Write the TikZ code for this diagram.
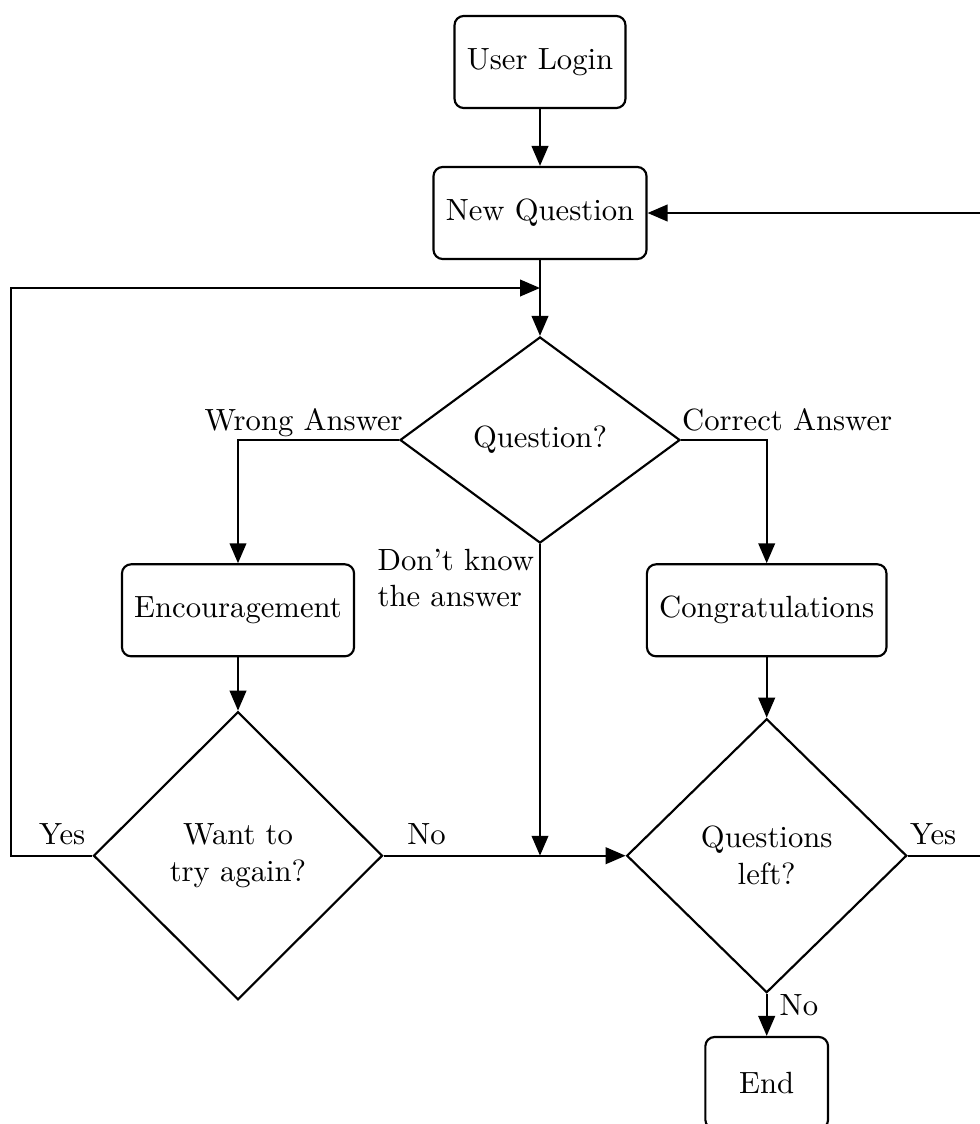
\documentclass[tikz,border=0pt]{standalone}
\usetikzlibrary{shapes.geometric, arrows.meta}

\begin{document}
\begin{tikzpicture}[x=0.326pt, y=0.326pt, line width=0.7pt,
    block/.style={draw, rounded corners=3pt, inner sep=4pt, minimum height=30pt},
    decision/.style={draw, diamond, align=center},
    flow/.style={-{Triangle[length=6.5pt, width=5.4pt]}},
    tag/.style={inner sep=0pt}]
    \useasboundingbox (0,0) rectangle (980,-1124);

    \node[block] (login) at (540,-62) {User Login};
    \node[block] (newq) at (540,-213) {New Question};
    \node[decision, minimum width=91.3pt, minimum height=67.2pt] (quest) at (540,-440) {Question?};
    \node[block] (encour) at (238,-610.3) {Encouragement};
    \node[block] (congrat) at (766.7,-610.3) {Congratulations};
    \node[decision, minimum width=94.2pt, minimum height=93.9pt] (again) at (238,-855.7) {Want to\\try again?};
    \node[decision, minimum width=91.3pt, minimum height=89.3pt] (qleft) at (766.7,-855.7) {Questions\\left?};
    \node[block, minimum width=40pt] (stop) at (766.7,-1083) {End};

    \coordinate (join) at (540,-288);
    \coordinate (lback) at (11,-288);
    \coordinate (rback) at (985,-213);

    \draw[flow] (login) -- (newq);
    \draw[flow] (newq) -- (quest);
    \draw[flow] (again.west) -| (lback) -- (join);
    \draw[flow] (quest.west) -| (encour.north);
    \draw[flow] (quest.east) -| (congrat.north);
    \draw[flow] (quest.south) -- (quest.south |- qleft.west);
    \draw[flow] (encour) -- (again);
    \draw[flow] (again.east) -- (qleft.west);
    \draw[flow] (congrat) -- (qleft);
    \draw[flow] (qleft.east) -| (rback) -- (newq.east);
    \draw[flow] (qleft) -- (stop);

    \node[tag, anchor=base east] (wrong) at ([xshift=1.6pt, yshift=3pt]quest.west) {Wrong Answer};
    \node[tag, anchor=base west] (correct) at ([yshift=3pt]quest.east) {Correct Answer};
    \node[tag, anchor=north east, align=left] (dunno) at ([xshift=-1.6pt, yshift=-1.2pt]quest.south) {Don't know\\the answer};
    \node[tag, anchor=base east] (yesl) at ([xshift=-2pt, yshift=3.8pt]again.west) {Yes};
    \node[tag, anchor=base west] (nol) at ([xshift=7.4pt, yshift=3.8pt]again.east) {No};
    \node[tag, anchor=base west] (yesr) at ([xshift=0.4pt, yshift=3.8pt]qleft.east) {Yes};
    \node[tag, anchor=base west] (nor) at ([xshift=3.9pt, yshift=-7.1pt]qleft.south) {No};
\end{tikzpicture}
\end{document}
